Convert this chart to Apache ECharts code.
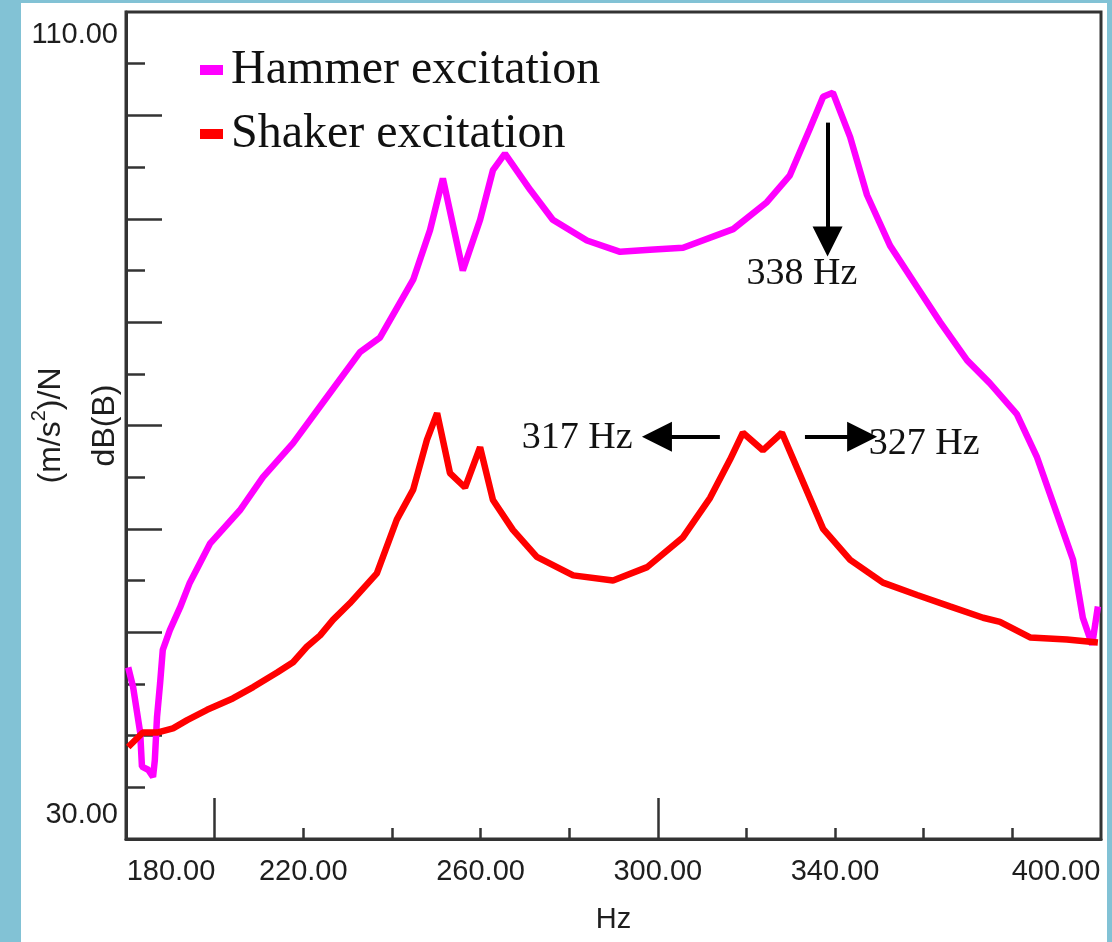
<!DOCTYPE html>
<html>
<head>
<meta charset="utf-8">
<script src="https://cdn.jsdelivr.net/npm/echarts@6/dist/echarts.min.js"></script>
<style>
  html, body { margin: 0; padding: 0; width: 1112px; height: 942px; overflow: hidden; background: #82c2d5; }
  #panel { position: absolute; left: 21px; top: 3px; width: 1086px; height: 939px; background: #ffffff; }
  #chart { position: absolute; left: 0; top: 0; width: 1112px; height: 942px; }
</style>
</head>
<body>
<div id="panel"></div>
<div id="chart"></div>
<script>
// ---- data ----
const hammerFreq = [180.5, 181.6, 183.2, 183.6, 185.0, 186.1, 186.5, 187.0, 187.7, 188.3, 189.9, 192.2, 194.4, 199.0, 205.7, 210.9, 217.7, 224.4, 232.8, 237.3, 244.8, 248.6, 251.5, 256.0, 259.9, 262.8, 265.5, 271.2, 276.3, 284.0, 291.5, 298.2, 305.7, 317.0, 324.6, 329.8, 334.3, 337.3, 339.5, 343.4, 347.2, 352.4, 358.5, 363.7, 369.8, 374.9, 381.0, 385.5, 390.1, 393.7, 395.9, 398.0, 399.3];
const hammerDb   = [46.6, 44.7, 40.3, 37.0, 36.7, 36.0, 37.6, 41.8, 45.1, 48.3, 50.2, 52.4, 54.8, 58.6, 61.8, 65.0, 68.3, 72.2, 77.1, 78.5, 84.1, 88.9, 93.9, 85.0, 89.9, 94.7, 96.3, 92.8, 89.9, 87.9, 86.8, 87.0, 87.2, 89.0, 91.6, 94.2, 98.7, 101.8, 102.2, 97.9, 92.3, 87.4, 83.4, 80.0, 76.3, 74.1, 71.1, 67.0, 61.4, 57.0, 51.4, 48.8, 52.5];
const shakerFreq = [180.5, 183.8, 187.0, 190.6, 193.8, 198.3, 204.1, 208.7, 214.1, 217.7, 220.8, 223.8, 226.7, 230.5, 236.6, 241.1, 244.8, 247.9, 250.2, 253.1, 256.5, 259.9, 262.8, 267.3, 272.7, 280.9, 289.9, 297.6, 305.7, 311.8, 316.3, 319.2, 323.7, 328.0, 331.4, 337.3, 343.4, 350.8, 358.5, 365.9, 373.4, 377.2, 384.0, 392.3, 399.3];
const shakerDb   = [38.9, 40.3, 40.3, 40.7, 41.5, 42.5, 43.6, 44.7, 46.1, 47.1, 48.6, 49.7, 51.2, 52.8, 55.7, 60.9, 63.8, 68.6, 71.2, 65.4, 64.0, 67.9, 62.8, 59.9, 57.3, 55.5, 55.0, 56.3, 59.2, 63.0, 66.7, 69.3, 67.6, 69.3, 65.9, 60.0, 57.0, 54.8, 53.6, 52.5, 51.4, 51.0, 49.5, 49.3, 49.0];

const seriesNames = ['Hammer excitation', 'Shaker excitation'];
const xLabelValues = [180, 220, 260, 300, 340, 400];
const xShortTicks = [220, 240, 260, 280, 320, 340, 360, 380];
const xLongTicks = [200, 300];
const yLabelValues = [30, 110];
const yShortTicks = [35, 45, 55, 65, 75, 85, 95, 105];
const yLongTicks = [40, 50, 60, 70, 80, 90, 100];

// annotations: [freq, dB, text]
const annoTexts = [[332.5, 84.7, '338 Hz'], [281.8, 68.8, '317 Hz'], [360.1, 68.2, '327 Hz']];
const annoArrows = [[[338.3, 99.3], [338.3, 87.8]], [[314.0, 68.9], [299.8, 68.9]], [[333.2, 68.9], [346.1, 68.9]]];

const zip = (a, b) => a.map((v, i) => [v, b[i]]);

const sans = '"Liberation Sans", Arial, sans-serif';
const serif = '"Liberation Serif", "Times New Roman", serif';
const axisCol = '#333';
const labCol = '#1e1e1e';

const chart = echarts.init(document.getElementById('chart'), null, { renderer: 'canvas' });

const option = {
  animation: false,
  backgroundColor: 'transparent',
  grid: { left: 126, right: 11, top: 12, bottom: 103, containLabel: false, outerBoundsMode: 'none', show: true, borderColor: axisCol, borderWidth: 3, backgroundColor: 'transparent' },
  legend: {
    orient: 'vertical', left: 195, top: 41,
    icon: 'rect', itemWidth: 23, itemHeight: 10, itemGap: 16,
    textStyle: { fontFamily: serif, fontSize: 48, color: '#111', lineHeight: 48, padding: [0, 0, 0, 3] },
    data: seriesNames
  },
  xAxis: [
    {
      type: 'value', min: 180, max: 400, position: 'bottom',
      name: 'Hz', nameLocation: 'middle', nameGap: 66, nameMoveOverlap: false,
      nameTextStyle: { fontFamily: sans, fontSize: 29, color: labCol },
      axisLine: { show: true, lineStyle: { color: axisCol, width: 3 } },
      axisTick: { show: true, inside: true, length: 11, customValues: xShortTicks, lineStyle: { color: axisCol, width: 2.5 } },
      axisLabel: {
        show: true, margin: 18, customValues: xLabelValues,
        formatter: v => v === 180 ? '{l|180.00}' : (v === 400 ? '{r|400.00}' : '{n|' + v.toFixed(2) + '}'),
        rich: {
          n: { fontFamily: sans, fontSize: 29, color: labCol },
          l: { fontFamily: sans, fontSize: 29, color: labCol, padding: [0, 0, 0, 90] },
          r: { fontFamily: sans, fontSize: 29, color: labCol, padding: [0, 90, 0, 0] }
        }
      },
      splitLine: { show: false }
    },
    {
      type: 'value', min: 180, max: 400, position: 'bottom',
      axisLine: { show: false },
      axisTick: { show: true, inside: true, length: 41, customValues: xLongTicks, lineStyle: { color: axisCol, width: 2.5 } },
      axisLabel: { show: false },
      splitLine: { show: false }
    }
  ],
  yAxis: [
    {
      type: 'value', min: 30, max: 110, position: 'left',
      name: '{a|(m/s}{s|2}{a|)/N}\n{a|dB(B)}', nameLocation: 'middle', nameGap: -6, nameRotate: 90, nameMoveOverlap: false,
      nameTextStyle: {
        rich: {
          a: { fontFamily: sans, fontSize: 32, color: labCol, lineHeight: 54 },
          s: { fontFamily: sans, fontSize: 20, color: labCol, lineHeight: 54, padding: [0, 0, 24, 0] }
        }
      },
      axisLine: { show: true, lineStyle: { color: axisCol, width: 3 } },
      axisTick: { show: true, inside: true, length: 19, customValues: yShortTicks, lineStyle: { color: axisCol, width: 2.5 } },
      axisLabel: {
        show: true, margin: 8, customValues: yLabelValues,
        formatter: v => v === 110 ? '{t|110.00}' : '{b|30.00}',
        rich: {
          t: { fontFamily: sans, fontSize: 29, color: labCol, padding: [46, 0, 0, 0] },
          b: { fontFamily: sans, fontSize: 29, color: labCol, padding: [0, 0, 48, 0] }
        }
      },
      splitLine: { show: false }
    },
    {
      type: 'value', min: 30, max: 110, position: 'left',
      axisLine: { show: false },
      axisTick: { show: true, inside: true, length: 36, customValues: yLongTicks, lineStyle: { color: axisCol, width: 2.5 } },
      axisLabel: { show: false },
      splitLine: { show: false }
    }
  ],
  series: [
    {
      name: seriesNames[0], type: 'line', xAxisIndex: 0, yAxisIndex: 0,
      data: zip(hammerFreq, hammerDb), showSymbol: false, symbol: 'none',
      lineStyle: { color: '#ff00ff', width: 6.5 }, itemStyle: { color: '#ff00ff' }, z: 3
    },
    {
      name: seriesNames[1], type: 'line', xAxisIndex: 0, yAxisIndex: 0,
      data: zip(shakerFreq, shakerDb), showSymbol: false, symbol: 'none',
      lineStyle: { color: '#ff0000', width: 6.5 }, itemStyle: { color: '#ff0000' }, z: 3,
      markLine: {
        silent: true, symbol: ['none', 'triangle'], symbolSize: 30,
        label: { show: false },
        lineStyle: { color: '#000', width: 4, type: 'solid' },
        itemStyle: { color: '#000' },
        data: annoArrows.map(a => [{ coord: a[0] }, { coord: a[1] }])
      },
      markPoint: {
        silent: true, symbol: 'circle', symbolSize: 1,
        itemStyle: { color: 'rgba(0,0,0,0)' },
        label: { show: true, position: 'inside', fontFamily: serif, fontSize: 38, color: '#111', formatter: p => p.name },
        data: annoTexts.map(t => ({ name: t[2], coord: [t[0], t[1]] }))
      }
    }
  ]
};
chart.setOption(option);
</script>
</body>
</html>
